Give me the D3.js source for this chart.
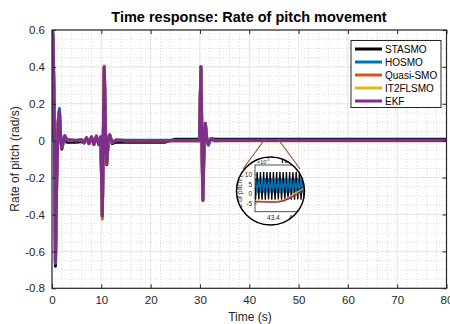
<!DOCTYPE html>
<html><head><meta charset="utf-8">
<script src="https://cdn.jsdelivr.net/npm/d3@7"></script>
<style>body{margin:0;background:#fff}svg{display:block}text{font-family:"Liberation Sans",Arial,sans-serif}</style>
</head><body><svg id="c" width="450" height="324"></svg>
<script>
const seriesNames = ["STASMO","HOSMO","Quasi-SMO","IT2FLSMO","EKF"];
const seriesColors = ["#000000","#0072BD","#D95319","#EDB120","#7E2F8E"];
const xTicks = [0,10,20,30,40,50,60,70,80];
const yTicks = [-0.8,-0.6,-0.4,-0.2,0,0.2,0.4,0.6];
const yTickLabels = ["-0.8","-0.6","-0.4","-0.2","0","0.2","0.4","0.6"];
const time = [0,0.2,0.45,0.7,0.95,1.25,1.5,1.75,2.0,2.3,2.6,3.0,4,5,6,6.5,7,7.5,8,8.5,9,9.5,9.9,10.2,10.4,10.6,10.85,11.1,11.4,11.7,12.2,13,15,20,23,25,29.9,30.2,30.4,30.6,30.85,31.1,31.4,31.7,32.2,33,35,40,45,50,60,70,80];
const stasmo = [0,0.57,0.14,-0.68,-0.21,0.09,0.155,0.01,-0.045,-0.01,0.02,-0.008,-0.008,-0.008,-0.005,-0.012,0.012,-0.016,0.018,-0.02,0.022,-0.022,0.02,-0.405,-0.005,0.395,0.04,-0.13,-0.01,0.03,-0.015,-0.008,-0.008,-0.008,-0.008,0.008,0.008,0.395,0.008,-0.315,0.008,0.095,0.008,-0.015,0.012,0.008,0.008,0.008,0.008,0.008,0.008,0.008,0.008];
const hosmo = [0,0.59,0.16,-0.665,-0.21,0.11,0.175,0.025,-0.03,0.005,0.028,0.006,0.004,0.003,0.006,-0.009,0.016,-0.014,0.021,-0.019,0.024,-0.019,0.022,-0.41,0.0,0.40,0.05,-0.118,0.002,0.032,-0.008,0.004,0.003,0.002,0.002,0.002,0.002,0.40,0.003,-0.325,0.003,0.085,0.003,-0.025,0.008,0.003,0.002,0.002,0.002,0.002,0.002,0.002,0.002];
const quasiSmo = [0,0.572,0.15,-0.655,-0.2,0.1,0.158,0.02,-0.035,0.0,0.025,0.004,0.002,0.0,0.005,-0.011,0.015,-0.016,0.02,-0.021,0.025,-0.021,0.02,-0.425,0.0,0.405,0.05,-0.125,0.0,0.03,-0.01,0.002,0.0,0.0,0.0,0.0,0.0,0.402,0.0,-0.32,0.0,0.088,0.0,-0.02,0.01,0.0,0.0,0.0,0.0,0.0,0.0,0.0,0.0];
const it2flsmo = [0,0.573,0.15,-0.658,-0.2,0.1,0.158,0.02,-0.035,0.0,0.025,0.005,0.003,0.0,0.005,-0.01,0.015,-0.015,0.02,-0.02,0.025,-0.02,0.02,-0.415,0.0,0.402,0.05,-0.12,0.0,0.03,-0.01,0.003,0.0,0.0,0.0,0.0,0.0,0.40,0.0,-0.32,0.0,0.09,0.0,-0.02,0.01,0.0,0.001,0.001,0.001,0.001,0.001,0.001,0.001];
const ekf = [0,0.575,0.15,-0.66,-0.2,0.1,0.16,0.02,-0.035,0.0,0.025,0.005,0.003,0.0,0.005,-0.01,0.015,-0.015,0.02,-0.02,0.025,-0.02,0.02,-0.41,0.0,0.40,0.05,-0.12,0.0,0.03,-0.01,0.003,0.0,0.0,0.0,0.0,0.0,0.40,0.0,-0.32,0.0,0.09,0.0,-0.02,0.01,0.0,0.002,0.002,0.002,0.002,0.002,0.002,0.002];
// zoomed inset (values x1e-3)
const insetTime = [43.22,43.235,43.25,43.265,43.28,43.295,43.31,43.325,43.34,43.355,43.37,43.385,43.4,43.415,43.43,43.445,43.46,43.475,43.49,43.505,43.52,43.535,43.55,43.565,43.58,43.595,43.61,43.625,43.64,43.655,43.67,43.685,43.7,43.715,43.73,43.745,43.76];
const insetStasmo = [11.5,-2.9,11.4,-2.8,11.5,-2.9,11.6,-2.9,11.5,-2.8,11.5,-2.9,11.4,-2.9,11.5,-2.8,11.6,-2.9,11.5,-2.9,11.5,-2.8,11.4,-2.9,11.5,-2.9,11.6,-2.8,11.5,-2.9,11.5,-2.9,11.4,-2.8,11.5,-2.9,11.5];
const insetHosmo = [0.8,8.2,0.7,8.3,0.8,8.2,0.7,8.3,0.8,8.2,0.8,8.3,0.7,8.2,0.8,8.3,0.7,8.2,0.8,8.3,0.8,8.2,0.7,8.3,0.8,8.2,0.7,8.3,0.8,8.2,0.8,8.3,0.7,8.2,0.8,8.3,0.7];
const insetLineTime = [43.22,43.3,43.4,43.45,43.5,43.55,43.6,43.65,43.7,43.76];
const insetQuasi = [-3.8,-3.9,-4.0,-3.9,-3.3,-2.0,-0.5,1.0,2.3,3.5];
const insetIt2 = [-3.6,-3.7,-3.8,-3.6,-2.8,-1.2,0.5,2.0,3.4,4.7];
const insetEkf = [-3.9,-4.0,-4.1,-4.0,-3.4,-2.1,-0.6,0.9,2.2,3.4];
const insetYTicks = [-5,0,5,10];

const svg = d3.select("#c");
const L=52,R=446.5,T=30,B=288.3;
const x = d3.scaleLinear().domain([0,80]).range([L,R]);
const y = d3.scaleLinear().domain([-0.8,0.6]).range([B,T]);

// grid
const g = svg.append("g");
const minorX = d3.range(0,80.01,2).filter(v=>v%10!==0);
const minorY = d3.range(-0.8,0.6001,0.05).filter(v=>Math.abs(Math.round(v*5)/5 - v)>1e-6);
g.selectAll(".mx").data(minorX).join("line").attr("x1",d=>x(d)).attr("x2",d=>x(d)).attr("y1",T).attr("y2",B).attr("stroke","#c8c8c8").attr("stroke-width",0.7).attr("stroke-dasharray","1,2");
g.selectAll(".my").data(minorY).join("line").attr("y1",d=>y(d)).attr("y2",d=>y(d)).attr("x1",L).attr("x2",R).attr("stroke","#c8c8c8").attr("stroke-width",0.7).attr("stroke-dasharray","1,2");
g.selectAll(".gx").data(xTicks).join("line").attr("x1",d=>x(d)).attr("x2",d=>x(d)).attr("y1",T).attr("y2",B).attr("stroke","#e3e3e3").attr("stroke-width",1);
g.selectAll(".gy").data(yTicks).join("line").attr("y1",d=>y(d)).attr("y2",d=>y(d)).attr("x1",L).attr("x2",R).attr("stroke","#e3e3e3").attr("stroke-width",1);

// traces
svg.append("clipPath").attr("id","pc").append("rect").attr("x",L).attr("y",T).attr("width",R-L).attr("height",B-T);
const line = d3.line().x((d,i)=>x(time[i])).y(d=>y(d));
const allSeries=[stasmo,hosmo,quasiSmo,it2flsmo,ekf];
const tg = svg.append("g").attr("clip-path","url(#pc)");
allSeries.forEach((s,k)=>{
  tg.append("path").attr("d",line(s)).attr("fill","none").attr("stroke",seriesColors[k]).attr("stroke-width",k===4?3.2:3).attr("stroke-linejoin","round");
});

// axes box and ticks
const ax = svg.append("g");
ax.append("rect").attr("x",L).attr("y",T).attr("width",R-L).attr("height",B-T).attr("fill","none").attr("stroke","#262626").attr("stroke-width",1.2);
const xAxB = d3.axisBottom(x).tickValues(xTicks).tickSize(-4).tickPadding(8).tickFormat(d3.format("d"));
const xAxT = d3.axisTop(x).tickValues(xTicks).tickSize(-4).tickFormat("");
const yAxL = d3.axisLeft(y).tickValues(yTicks).tickSize(-4).tickPadding(7).tickFormat((d,i)=>yTickLabels[i]);
const yAxR = d3.axisRight(y).tickValues(yTicks).tickSize(-4).tickFormat("");
[[xAxB,`translate(0,${B})`],[xAxT,`translate(0,${T})`],[yAxL,`translate(${L},0)`],[yAxR,`translate(${R},0)`]].forEach(([a,tr])=>{
  const gg=ax.append("g").attr("transform",tr).call(a);
  gg.select(".domain").remove();
  gg.selectAll(".tick line").attr("stroke","#262626");
  gg.selectAll("text").attr("font-size",11.5).attr("fill","#262626").attr("font-family","'Liberation Sans',Arial,sans-serif");
});

// labels
svg.append("text").attr("x",249).attr("y",21.5).attr("text-anchor","middle").attr("font-size",14.5).attr("font-weight","bold").text("Time response: Rate of pitch movement");
svg.append("text").attr("x",250).attr("y",321).attr("text-anchor","middle").attr("font-size",12).attr("fill","#262626").text("Time (s)");
svg.append("text").attr("transform","translate(19,159) rotate(-90)").attr("text-anchor","middle").attr("font-size",12).attr("fill","#262626").text("Rate of pitch (rad/s)");

// legend
const lg = svg.append("g");
lg.append("rect").attr("x",351).attr("y",40.5).attr("width",90).attr("height",67).attr("fill","#fff").attr("stroke","#262626").attr("stroke-width",1);
seriesNames.forEach((n,k)=>{
  const yy=49+k*13;
  lg.append("line").attr("x1",355).attr("x2",382).attr("y1",yy).attr("y2",yy).attr("stroke",seriesColors[k]).attr("stroke-width",3);
  lg.append("text").attr("x",385).attr("y",yy+3.5).attr("font-size",10).attr("fill","#000").text(n);
});

// magnifier
const cx=270.5, cy=191, cr=34;
svg.append("line").attr("x1",265).attr("y1",139).attr("x2",243).attr("y2",169).attr("stroke","#A0522D").attr("stroke-width",1.2);
svg.append("line").attr("x1",278).attr("y1",139).attr("x2",300).attr("y2",169).attr("stroke","#A0522D").attr("stroke-width",1.2);
svg.append("clipPath").attr("id","cc").append("circle").attr("cx",cx).attr("cy",cy).attr("r",cr);
const ig = svg.append("g").attr("clip-path","url(#cc)");
ig.append("circle").attr("cx",cx).attr("cy",cy).attr("r",cr).attr("fill","#fff");
const iL=255, iR=320, iT=165, iB=211.7;
const ix = d3.scaleLinear().domain([43.23,43.83]).range([iL,iR]);
const iy = d3.scaleLinear().domain([-9.1,15.1]).range([iB,iT]);
ig.append("clipPath").attr("id","ic").append("rect").attr("x",iL).attr("y",iT).attr("width",iR-iL).attr("height",iB-iT);
const ip = ig.append("g").attr("clip-path","url(#ic)");
const il1 = d3.line().x((d,i)=>ix(insetTime[i])).y(d=>iy(d));
const il2 = d3.line().x((d,i)=>ix(insetLineTime[i])).y(d=>iy(d));
ip.append("path").attr("d",il1(insetStasmo)).attr("fill","none").attr("stroke","#000").attr("stroke-width",1.3);
ip.append("path").attr("d",il1(insetHosmo)).attr("fill","none").attr("stroke","#0072BD").attr("stroke-width",1.3);
ip.append("path").attr("d",il2(insetQuasi)).attr("fill","none").attr("stroke","#D95319").attr("stroke-width",1.3);
ip.append("path").attr("d",il2(insetIt2)).attr("fill","none").attr("stroke","#EDB120").attr("stroke-width",1.3);
ip.append("path").attr("d",il2(insetEkf)).attr("fill","none").attr("stroke","#7E2F8E").attr("stroke-width",1.3);
ig.append("rect").attr("x",iL).attr("y",iT).attr("width",iR-iL).attr("height",iB-iT).attr("fill","none").attr("stroke","#262626").attr("stroke-width",0.8);
insetYTicks.forEach(v=>{
  ig.append("text").attr("x",252).attr("y",iy(v)+2.2).attr("text-anchor","end").attr("font-size",6.5).attr("fill","#262626").text(v);
  ig.append("line").attr("x1",iL).attr("x2",iL+2).attr("y1",iy(v)).attr("y2",iy(v)).attr("stroke","#262626").attr("stroke-width",0.6);
});
ig.append("text").attr("x",ix(43.4)).attr("y",220).attr("text-anchor","middle").attr("font-size",6.5).attr("fill","#262626").text("43.4");
ig.append("text").attr("x",ix(43.6)).attr("y",220).attr("text-anchor","middle").attr("font-size",6.5).attr("fill","#262626").text("43.6");
ig.append("text").attr("x",257).attr("y",163.5).attr("font-size",5.5).attr("fill","#262626").text("×10");
ig.append("text").attr("x",266).attr("y",161).attr("font-size",4).attr("fill","#262626").text("-3");
ig.append("text").attr("x",280).attr("y",163).attr("font-size",8).attr("font-weight","bold").text("Time response: Rate of pitch movement");
ig.append("text").attr("transform","translate(242,188) rotate(-90)").attr("text-anchor","middle").attr("font-size",7).attr("fill","#262626").text("Rate of pitch (rad/s)");
svg.append("circle").attr("cx",cx).attr("cy",cy).attr("r",cr).attr("fill","none").attr("stroke","#000").attr("stroke-width",1.5);
</script></body></html>
